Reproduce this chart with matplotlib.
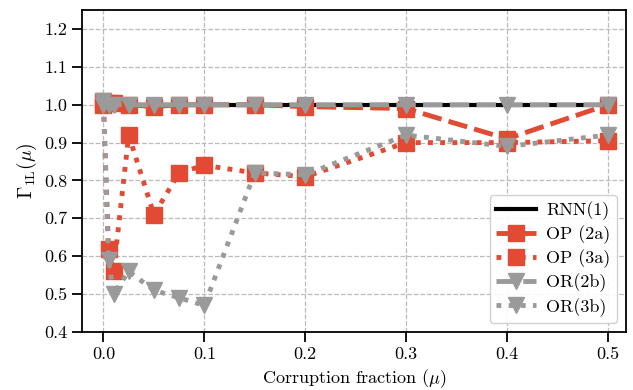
import matplotlib

matplotlib.use("Agg")

import matplotlib.pyplot as plt  # noqa: E402

plt.rcParams["font.family"] = "serif"
plt.rcParams["font.serif"] = ["cmr10", "DejaVu Serif"]
plt.rcParams["mathtext.fontset"] = "cm"
plt.rcParams["axes.formatter.use_mathtext"] = True

# ---------------------------------------------------------------------------
# Data
# ---------------------------------------------------------------------------
mu = [0.0, 0.005, 0.01, 0.025, 0.05, 0.075, 0.1, 0.15, 0.2, 0.3, 0.4, 0.5]

rnn_1 = [1.0] * len(mu)
op_2a = [1.01, 1.005, 1.005, 1.0, 0.995, 1.0, 1.0, 1.0, 0.995, 0.99, 0.91, 1.0]
op_3a = [1.0, 0.62, 0.56, 0.92, 0.71, 0.82, 0.84, 0.82, 0.81, 0.90, 0.90, 0.905]
or_2b = [1.01, 1.0, 1.0, 1.0, 1.0, 1.0, 1.0, 1.0, 1.0, 1.0, 1.0, 1.0]
or_3b = [1.0, 0.59, 0.50, 0.56, 0.51, 0.49, 0.47, 0.82, 0.815, 0.92, 0.89, 0.92]

xticks = [0.0, 0.1, 0.2, 0.3, 0.4, 0.5]
yticks = [0.4, 0.5, 0.6, 0.7, 0.8, 0.9, 1.0, 1.1, 1.2]

RED = "#E24A33"
GRAY = "#9a9a9a"

# ---------------------------------------------------------------------------
# Plot
# ---------------------------------------------------------------------------
fig = plt.figure(figsize=(6.33, 3.9), dpi=100)
ax = fig.add_axes([0.13, 0.149, 0.859, 0.825])

ax.plot(mu, rnn_1, color="black", linewidth=3, label="RNN(1)", zorder=3)
ax.plot(mu, op_2a, color=RED, linestyle=(0, (4, 1.5)), linewidth=3.5,
        marker="s", markersize=11.5, label="OP (2a)", zorder=4)
ax.plot(mu, op_3a, color=RED, linestyle=(0, (1, 1.5)), linewidth=3.5,
        marker="s", markersize=11.5, label="OP (3a)", zorder=4)
ax.plot(mu, or_2b, color=GRAY, linestyle=(0, (4, 1.5)), linewidth=3.5,
        marker="v", markersize=12, label="OR(2b)", zorder=5)
ax.plot(mu, or_3b, color=GRAY, linestyle=(0, (1, 1.5)), linewidth=3.5,
        marker="v", markersize=12, label="OR(3b)", zorder=5)

ax.set_xlim(-0.021, 0.518)
ax.set_ylim(0.4, 1.25)
ax.set_xticks(xticks)
ax.set_yticks(yticks)
ax.set_xticklabels([f"{v:.1f}" for v in xticks])
ax.set_yticklabels([f"{v:.1f}" for v in yticks])
ax.tick_params(direction="out", length=7, width=1.3, labelsize=13)

ax.grid(True, linestyle="--", color="#bbbbbb", linewidth=0.9)
for spine in ax.spines.values():
    spine.set_linewidth(1.3)

ax.set_xlabel(r"Corruption fraction ($\mu$)", fontsize=13)
ax.set_ylabel(r"$\Gamma_{1\mathrm{L}}(\mu)$", fontsize=14)

ax.legend(loc="lower right", fontsize=13, handlelength=2.2, framealpha=0.9,
          borderpad=0.35, labelspacing=0.3, handletextpad=0.6,
          borderaxespad=0.5)

fig.savefig("out.png", dpi=100)
